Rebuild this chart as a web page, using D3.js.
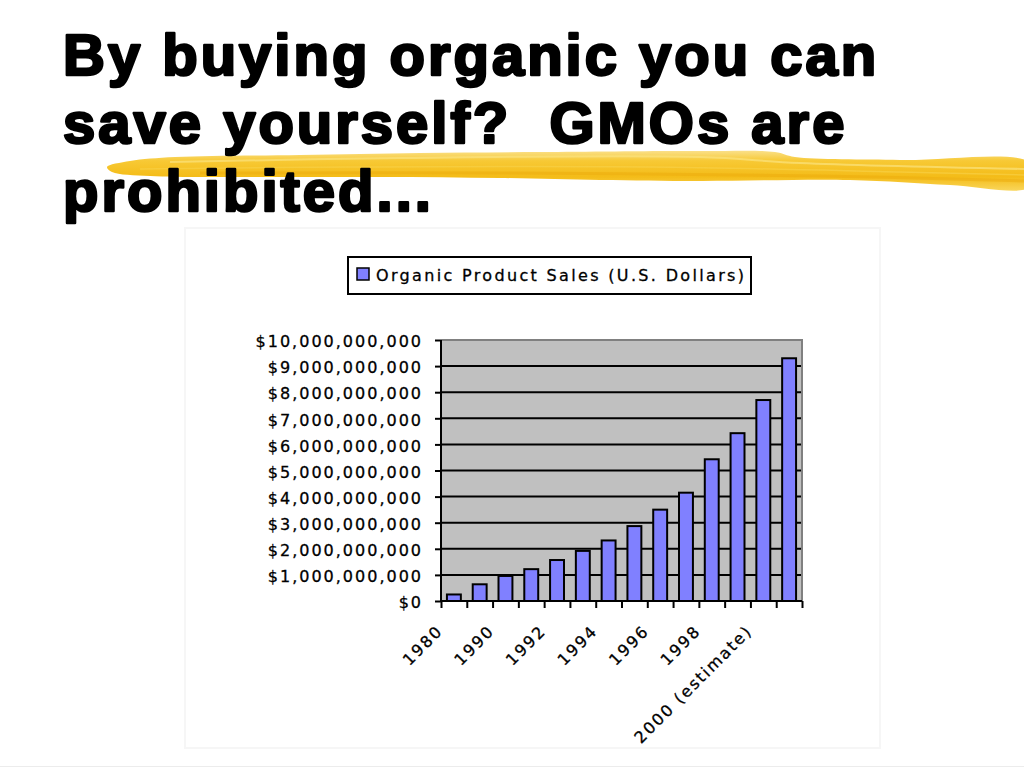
<!DOCTYPE html>
<html>
<head>
<meta charset="utf-8">
<script src="https://cdn.jsdelivr.net/npm/d3@7"></script>
<style>
html,body{margin:0;padding:0;background:#fff;}
svg{display:block;}
</style>
</head>
<body>
<svg id="c" width="1024" height="768"></svg>
<script>
// ---- data ----
const titleLines = ["By buying organic you can", "save yourself?  GMOs are", "prohibited..."];
const categories = ["1980","1989","1990","1991","1992","1993","1994","1995","1996","1997","1998","1999","2000 (estimate)","2001 (estimate)"];
const salesBillions = [0.25, 0.64, 0.96, 1.22, 1.57, 1.92, 2.32, 2.87, 3.50, 4.15, 5.43, 6.43, 7.70, 9.30];
const shownLabels = ["1980","1990","1992","1994","1996","1998","2000 (estimate)"];
const yTicks = [0,1,2,3,4,5,6,7,8,9,10].map(d => d * 1e9);
const seriesName = "Organic Product Sales (U.S. Dollars)";
const sales = salesBillions.map(v => v * 1e9);

const svg = d3.select("#c");

// faint slide decorations
svg.append("rect").attr("x",185).attr("y",228).attr("width",695).attr("height",520)
  .attr("fill","none").attr("stroke","#f6f6f6").attr("stroke-width",2);
svg.append("line").attr("x1",0).attr("x2",1024).attr("y1",766.5).attr("y2",766.5)
  .attr("stroke","#ececec").attr("stroke-width",1);

// yellow highlighter stroke
const hl = svg.append("g");
const grad = svg.append("defs").append("linearGradient").attr("id","hlg")
  .attr("x1","0").attr("y1","0").attr("x2","0").attr("y2","1");
grad.append("stop").attr("offset","0").attr("stop-color","#fae08a");
grad.append("stop").attr("offset","0.25").attr("stop-color","#f7c935");
grad.append("stop").attr("offset","0.65").attr("stop-color","#f4bc18");
grad.append("stop").attr("offset","1").attr("stop-color","#f9d65c");
const closed = d3.line().curve(d3.curveCatmullRomClosed);
const open = d3.line().curve(d3.curveCatmullRom);
const shape = [[107,167],[130,161],[175,157],[300,155],[420,153],[540,152],[700,151],[775,152],[795,157],[900,160],[1030,163],
               [1030,187],[950,185],[850,180],[700,181],[600,180],[500,178],[380,177],[250,177],[150,176],[112,172]];
hl.append("path").attr("d", closed(shape)).attr("fill","url(#hlg)");
hl.append("path").attr("d", open([[170,162],[400,158],[700,157],[800,163],[1024,169]]))
  .attr("fill","none").attr("stroke","#fbe27e").attr("stroke-width",2).attr("opacity",0.7);
hl.append("path").attr("d", open([[200,173],[500,173],[820,176],[1024,181]]))
  .attr("fill","none").attr("stroke","#eaa90c").attr("stroke-width",3).attr("opacity",0.45);
hl.append("path").attr("d", open([[140,169],[350,167],[650,167],[900,172],[1024,175]]))
  .attr("fill","none").attr("stroke","#f8d24a").attr("stroke-width",1.5).attr("opacity",0.6);

// title
const titleG = svg.append("g");
const titleY = [75, 143, 211];
titleG.selectAll("text").data(titleLines).join("text")
  .attr("x", 63).attr("y", (d,i) => titleY[i])
  .attr("font-family", "'Liberation Sans', Arial, sans-serif")
  .attr("font-weight", "bold").attr("font-size", 58)
  .attr("letter-spacing", 3.0)
  .attr("fill", "#000").attr("stroke", "#000").attr("stroke-width", 2.6)
  .attr("stroke-linejoin","round")
  .style("white-space","pre")
  .text(d => d);

// chart
const plot = {left: 441, right: 802, top: 340, bottom: 601};
const x = d3.scaleBand().domain(categories).range([plot.left, plot.right])
  .paddingInner(0.46).paddingOuter(0.23);
const xTicks = d3.scaleLinear().domain([0, categories.length]).range([plot.left, plot.right]);
const y = d3.scaleLinear().domain([0, 1e10]).range([plot.bottom, plot.top]);

const fontFam = "'DejaVu Sans', sans-serif";

svg.append("rect").attr("x", plot.left).attr("y", plot.top)
  .attr("width", plot.right - plot.left).attr("height", plot.bottom - plot.top)
  .attr("fill", "#c0c0c0");

// gridlines
svg.append("g").selectAll("line").data(yTicks.filter(d => d > 0 && d < 1e10)).join("line")
  .attr("x1", plot.left).attr("x2", plot.right)
  .attr("y1", d => y(d)).attr("y2", d => y(d))
  .attr("stroke", "#000").attr("stroke-width", 2);

// plot border (top/right grey)
svg.append("path")
  .attr("d", `M${plot.left},${plot.top}H${plot.right}V${plot.bottom}`)
  .attr("fill","none").attr("stroke","#808080").attr("stroke-width",2);

// bars
svg.append("g").selectAll("rect").data(sales).join("rect")
  .attr("x", (d,i) => x(categories[i]))
  .attr("y", d => y(d))
  .attr("width", x.bandwidth())
  .attr("height", d => y(0) - y(d))
  .attr("fill", "#8080ff").attr("stroke", "#000").attr("stroke-width", 2);

// y axis
const yAxis = d3.axisLeft(y).tickValues(yTicks).tickSize(6).tickPadding(12)
  .tickFormat(d => "$" + d3.format(",")(d));
const yg = svg.append("g").attr("transform", `translate(${plot.left},0)`).call(yAxis);
yg.select(".domain").attr("stroke","#000").attr("stroke-width",2).attr("d", `M0,${plot.top}V${plot.bottom}`);
yg.selectAll(".tick line").attr("stroke","#000").attr("stroke-width",2);
yg.selectAll(".tick text").attr("font-family", fontFam).attr("font-size", 16)
  .attr("letter-spacing", 2).attr("fill","#000").attr("stroke","#000").attr("stroke-width",0.3)
  .attr("dy","0.42em");

// x axis tick marks at category boundaries
const xtAxis = d3.axisBottom(xTicks).ticks(categories.length).tickSize(7).tickFormat("");
const xtg = svg.append("g").attr("transform", `translate(0,${plot.bottom})`).call(xtAxis);
xtg.select(".domain").attr("stroke","#000").attr("stroke-width",2).attr("d", `M${plot.left},0H${plot.right}`);
xtg.selectAll(".tick line").attr("stroke","#000").attr("stroke-width",2);

// x labels
const xAxis = d3.axisBottom(x).tickValues(shownLabels).tickSize(0);
const xg = svg.append("g").attr("transform", `translate(0,${plot.bottom})`).call(xAxis);
xg.select(".domain").remove();
xg.selectAll(".tick text").attr("font-family", fontFam).attr("font-size", 16)
  .attr("letter-spacing", 2).attr("fill","#000").attr("stroke","#000").attr("stroke-width",0.3)
  .attr("x", 0).attr("y", 0).attr("dy", 0)
  .attr("text-anchor","end")
  .attr("transform","translate(-10,31) rotate(-45)");

// legend
const lg = svg.append("g");
lg.append("rect").attr("x",348).attr("y",257).attr("width",403).attr("height",37)
  .attr("fill","#fff").attr("stroke","#000").attr("stroke-width",2);
lg.append("rect").attr("x",357).attr("y",268).attr("width",12).attr("height",12)
  .attr("fill","#8080ff").attr("stroke","#000").attr("stroke-width",1.5);
lg.append("text").attr("x",376).attr("y",281)
  .attr("font-family", fontFam).attr("font-size",16)
  .attr("textLength", 368).attr("lengthAdjust","spacing")
  .attr("fill","#000").attr("stroke","#000").attr("stroke-width",0.3).text(seriesName);
</script>
</body>
</html>
